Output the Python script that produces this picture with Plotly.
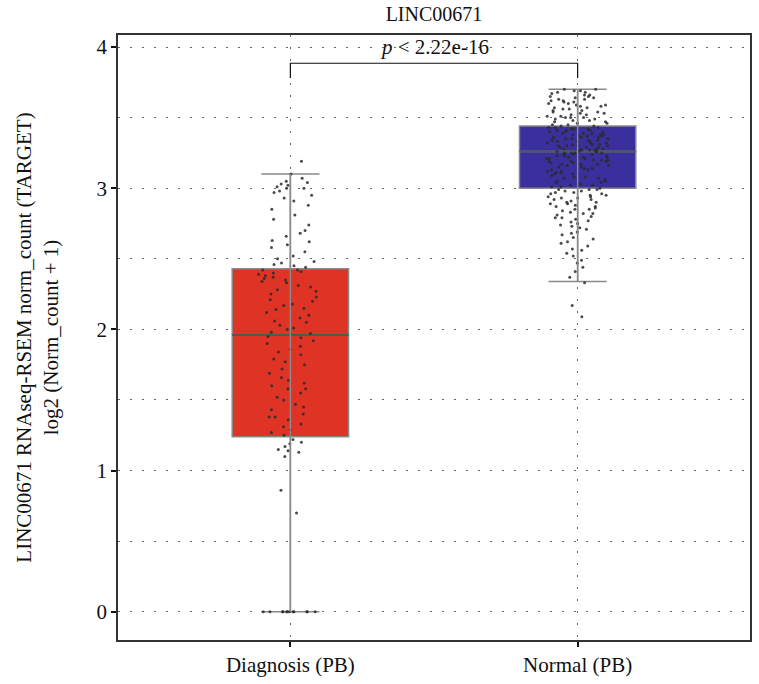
import plotly.graph_objects as go

title_text = "LINC00671"
y_title = "LINC00671 RNAseq-RSEM norm_count (TARGET)<br>log2 (Norm_count + 1)"
categories = ["Diagnosis (PB)", "Normal (PB)"]
box_colors = ["#DF3425", "#3A2F9C"]

# box statistics
q1 = [1.24, 3.00]
median = [1.96, 3.26]
q3 = [2.43, 3.44]
lower_whisker = [0.0, 2.34]
upper_whisker = [3.10, 3.70]

# individual samples (estimated from the jittered points)
diagnosis_values = [
    0, 0, 0, 0, 0, 0, 0, 0, 0, 0, 0, 0,
    0.70, 0.86, 1.10, 1.13, 1.14, 1.15, 1.17, 1.19, 1.20, 1.22,
    1.25, 1.27, 1.29, 1.31, 1.33, 1.36, 1.38, 1.38, 1.40, 1.43, 1.45, 1.47,
    1.50, 1.52, 1.55, 1.58, 1.58, 1.60, 1.62, 1.64, 1.66, 1.69, 1.72, 1.75,
    1.77, 1.79, 1.82, 1.84, 1.86, 1.88, 1.90, 1.92, 1.94, 1.95,
    1.97, 1.98, 2.00, 2.01, 2.03, 2.05, 2.06, 2.08, 2.10, 2.12, 2.14, 2.15,
    2.17, 2.18, 2.20, 2.21, 2.23, 2.25, 2.27, 2.28, 2.30, 2.31, 2.33, 2.34,
    2.35, 2.36, 2.37, 2.38, 2.39, 2.40, 2.41, 2.42, 2.42,
    2.44, 2.45, 2.46, 2.47, 2.48, 2.50, 2.52, 2.55, 2.58, 2.60, 2.62, 2.63,
    2.66, 2.68, 2.70, 2.74, 2.78, 2.81, 2.85, 2.88, 2.91, 2.93, 2.95, 2.97,
    2.98, 3.00, 3.00, 3.01, 3.02, 3.03, 3.04, 3.05, 3.07, 3.10, 3.19,
]

normal_values = [
    2.09, 2.17, 2.33, 2.37, 2.41, 2.44, 2.47, 2.49, 2.52, 2.54, 2.56, 2.57,
    2.59, 2.61, 2.62, 2.64, 2.65, 2.67, 2.68, 2.69, 2.71, 2.72, 2.73, 2.74,
    2.75, 2.76, 2.77, 2.78, 2.79, 2.79, 2.80, 2.81, 2.82, 2.82, 2.83, 2.84,
    2.85, 2.85, 2.86, 2.87, 2.87, 2.88, 2.89, 2.89, 2.90, 2.90, 2.91, 2.92,
    2.92, 2.93, 2.93, 2.94, 2.94, 2.95, 2.95, 2.96, 2.96, 2.97, 2.97, 2.98,
    2.98, 2.99, 2.99, 2.99,
    3.00, 3.01, 3.01, 3.02, 3.02, 3.03, 3.04, 3.04, 3.05, 3.05, 3.06, 3.07,
    3.07, 3.08, 3.08, 3.09, 3.10, 3.10, 3.11, 3.11, 3.12, 3.12, 3.13, 3.13,
    3.14, 3.14, 3.15, 3.15, 3.16, 3.16, 3.17, 3.17, 3.17, 3.18, 3.18, 3.19,
    3.19, 3.19, 3.20, 3.20, 3.20, 3.21, 3.21, 3.21, 3.22, 3.22, 3.22, 3.23,
    3.23, 3.23, 3.24, 3.24, 3.24, 3.25, 3.25, 3.25, 3.25, 3.26, 3.26, 3.26,
    3.26, 3.27, 3.27, 3.27, 3.27, 3.28, 3.28, 3.28, 3.29, 3.29, 3.29, 3.30,
    3.30, 3.30, 3.30, 3.31, 3.31, 3.31, 3.32, 3.32, 3.32, 3.33, 3.33, 3.33,
    3.34, 3.34, 3.34, 3.35, 3.35, 3.35, 3.36, 3.36, 3.36, 3.37, 3.37, 3.37,
    3.38, 3.38, 3.38, 3.39, 3.39, 3.39, 3.40, 3.40, 3.40, 3.41, 3.41, 3.41,
    3.42, 3.42, 3.42, 3.43, 3.43, 3.43, 3.44, 3.44,
    3.45, 3.45, 3.46, 3.46, 3.47, 3.47, 3.48, 3.48, 3.49, 3.49, 3.50, 3.50,
    3.50, 3.51, 3.51, 3.52, 3.52, 3.53, 3.53, 3.54, 3.54, 3.55, 3.55, 3.56,
    3.56, 3.57, 3.57, 3.58, 3.58, 3.59, 3.59, 3.60, 3.60, 3.61, 3.61, 3.62,
    3.62, 3.63, 3.63, 3.64, 3.64, 3.65, 3.65, 3.66, 3.66, 3.67, 3.68, 3.68,
    3.69, 3.69, 3.70, 3.70,
]

p_label = "<i>p</i> < 2.22e-16"
bracket_y = [3.78, 3.885]
y_ticks = [0, 1, 2, 3, 4]

FONT = "Liberation Serif, Times New Roman, serif"
BOX_W = 0.405
grid_style = dict(gridcolor="#666666", griddash="2px,10px", gridwidth=1)

fig = go.Figure()
samples = [diagnosis_values, normal_values]
for i, cat in enumerate(categories):
    fig.add_trace(go.Box(
        x=[cat], q1=[q1[i]], median=[median[i]], q3=[q3[i]],
        lowerfence=[lower_whisker[i]], upperfence=[upper_whisker[i]],
        fillcolor=box_colors[i], line=dict(color="#8a8a8a", width=1.5),
        width=BOX_W, whiskerwidth=0.5, boxpoints=False, showlegend=False,
    ))
for i, cat in enumerate(categories):
    fig.add_trace(go.Scatter(
        x=[cat, cat], y=[lower_whisker[i], upper_whisker[i]], mode="lines",
        line=dict(color="#8a8a8a", width=1.5), showlegend=False, hoverinfo="skip",
    ))
# darker median line (degenerate box collapsed on the median)
for i, cat in enumerate(categories):
    fig.add_trace(go.Box(
        x=[cat], q1=[median[i]], median=[median[i]], q3=[median[i]],
        lowerfence=[median[i]], upperfence=[median[i]],
        fillcolor="rgba(0,0,0,0)", line=dict(color="#4e5a5a", width=2),
        width=BOX_W, whiskerwidth=0.5, boxpoints=False, showlegend=False,
        hoverinfo="skip",
    ))
for i, cat in enumerate(categories):
    fig.add_trace(go.Box(
        x=[cat] * len(samples[i]), y=samples[i], boxpoints="all", jitter=0.55,
        pointpos=0, fillcolor="rgba(0,0,0,0)",
        line=dict(color="rgba(0,0,0,0)", width=0), width=BOX_W,
        marker=dict(size=3, color="#2b2b2b", opacity=0.85), showlegend=False,
    ))

fig.add_trace(go.Scatter(
    x=[categories[0], categories[0], categories[1], categories[1]],
    y=[bracket_y[0], bracket_y[1], bracket_y[1], bracket_y[0]],
    mode="lines", line=dict(color="#111111", width=1.2), showlegend=False,
    hoverinfo="skip",
))
fig.add_annotation(x=0.5, y=4.0, xref="x", yref="y", text=p_label,
                   showarrow=False, yanchor="middle",
                   font=dict(family=FONT, size=21, color="#111111"))

fig.update_layout(
    width=759, height=684, boxmode="overlay",
    margin=dict(l=118, r=7, t=35, b=43),
    paper_bgcolor="white", plot_bgcolor="white",
    font=dict(family=FONT, size=20, color="#111111"),
    title=dict(text=title_text, x=0.5, xref="paper", xanchor="center",
               y=1 - 14 / 684, yref="container", yanchor="middle",
               font=dict(family=FONT, size=20, color="#111111")),
    xaxis=dict(type="category", categoryorder="array", categoryarray=categories,
               range=[-0.6, 1.6], showline=True, mirror=True, linecolor="#333333",
               linewidth=1.5, ticks="outside", ticklen=5, tickwidth=2,
               tickcolor="#111111", showgrid=True, zeroline=False,
               tickfont=dict(family=FONT, size=21), **grid_style),
    yaxis=dict(range=[-0.2, 4.085], tickvals=y_ticks, showline=True, mirror=True,
               linecolor="#333333", linewidth=1.5, ticks="outside", ticklen=5,
               tickwidth=2, tickcolor="#111111", showgrid=True, zeroline=False,
               tickfont=dict(family=FONT, size=21),
               title=dict(text=y_title, standoff=32,
                          font=dict(family=FONT, size=21)),
               minor=dict(dtick=0.5, tick0=0, showgrid=True, **grid_style),
               **grid_style),
)

fig.write_html("out.html")
